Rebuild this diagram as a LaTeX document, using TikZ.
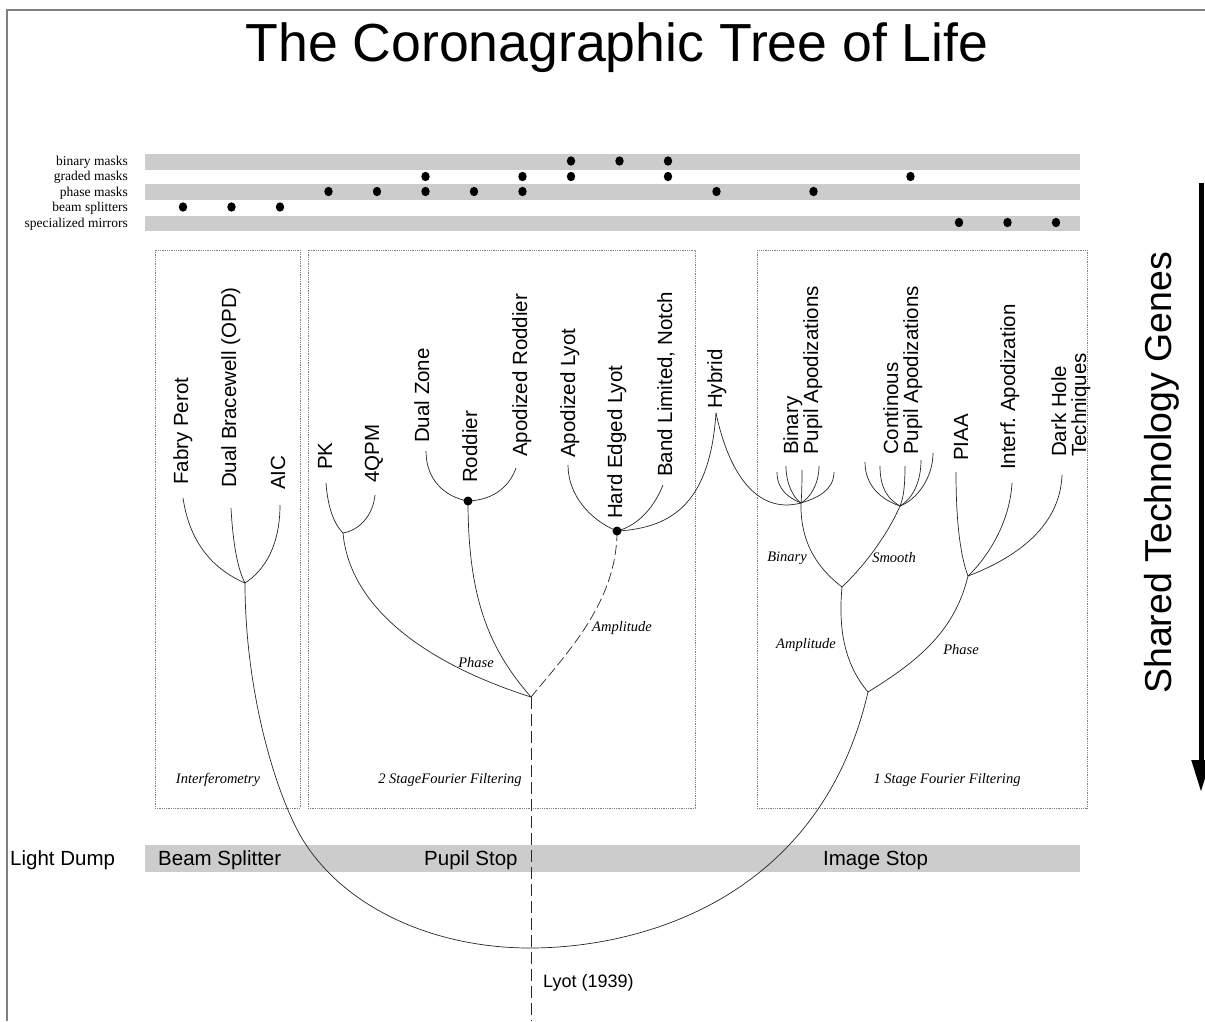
\documentclass[tikz,border=0pt]{standalone}
\usepackage{fontspec}
\setmainfont{Liberation Serif}
\setsansfont{Liberation Sans}
\usetikzlibrary{arrows.meta}

\tikzset{
  gene/.style={fill=gray!40},
  genelab/.style={anchor=base east, inner sep=0pt, font=\fontsize{13.5}{14}\selectfont},
  method/.style={rotate=90, inner sep=0pt, align=left, font=\sffamily\fontsize{20.5}{20}\selectfont},
  branch/.style={black!85, line width=0.7pt},
  twig/.style={inner sep=0pt, font=\itshape\fontsize{14.5}{15}\selectfont},
  family/.style={draw=gray, densely dotted, line width=0.8pt},
  stoplab/.style={anchor=base west, inner sep=0pt, font=\sffamily\fontsize{20.5}{21}\selectfont},
}

\begin{document}
\begin{tikzpicture}[x=1pt,y=-1pt]
\useasboundingbox (0,0) rectangle (1205,1021);
\draw[gray,line width=1.5pt] (7,1021) -- (7,10) -- (1205,10);
\node[anchor=base, inner sep=0pt, font=\sffamily\fontsize{53.6}{60}\selectfont] (title) at (617,61) {The Coronagraphic Tree of Life};

% technology genes
\fill[gene] (145,154) rectangle (1080,169.5);
\fill[gene] (145,184) rectangle (1080,199.5);
\fill[gene] (145,215.5) rectangle (1080,231);
\node[genelab] (binary) at (128,165) {binary masks};
\node[genelab] (graded) at (128,180.5) {graded masks};
\node[genelab] (phasem) at (128,196) {phase masks};
\node[genelab] (beams) at (128,211.5) {beam splitters};
\node[genelab] (mirrors) at (128,227) {specialized mirrors};
\foreach \y/\cols in {161/{8,9,10}, 176.5/{5,7,8,10,15}, 191.5/{3,4,5,6,7,11,13}, 207/{0,1,2}, 222.5/{16,17,18}}
  \foreach \k in \cols
    \fill ({183+48.5*\k},\y) ellipse (4.2pt and 4.7pt);

% families
\draw[family] (155,250) rectangle (300,808);
\draw[family] (308,250) rectangle (695,808);
\draw[family] (757,250) rectangle (1087,808);
\node[twig] (interf) at (218,780) {Interferometry};
\node[twig] (twostage) at (450,780) {2 StageFourier Filtering};
\node[twig] (onestage) at (947,780) {1 Stage Fourier Filtering};

% light dump
\fill[gene] (145,845) rectangle (1080,872);
\node[stoplab] (dump) at (10,865) {Light Dump};
\node[stoplab] (splitter) at (158,865) {Beam Splitter};
\node[stoplab] (pupil) at (424,865) {Pupil Stop};
\node[stoplab] (image) at (823,865) {Image Stop};

% methods
\node[method, anchor=base west] (fabry) at (188,485) {Fabry Perot};
\node[method, anchor=base west] (bracewell) at (236,488) {Dual Bracewell (OPD)};
\node[method, anchor=base west] (aiclab) at (285,490) {AIC};
\node[method, anchor=base west] (pklab) at (332,470) {PK};
\node[method, anchor=base west] (qpmlab) at (379,483) {4QPM};
\node[method, anchor=base west] (dzlab) at (429,443) {Dual Zone};
\node[method, anchor=base west] (rodlab) at (477,483) {Roddier};
\node[method, anchor=base west] (aprlab) at (527,457) {Apodized Roddier};
\node[method, anchor=base west] (apllab) at (575,458) {Apodized Lyot};
\node[method, anchor=base west] (hellab) at (622,519) {Hard Edged Lyot};
\node[method, anchor=base west] (blnlab) at (672,477) {Band Limited, Notch};
\node[method, anchor=base west] (hyblab) at (722,409) {Hybrid};
\node[method, anchor=north west] (binlab) at (783,455) {Binary\\Pupil Apodizations};
\node[method, anchor=north west] (contlab) at (883,455) {Continous\\Pupil Apodizations};
\node[method, anchor=base west] (piaalab) at (968,461) {PIAA};
\node[method, anchor=base west] (intflab) at (1015,470) {Interf.\ Apodization};
\node[method, anchor=north west] (darklab) at (1051,457) {Dark Hole\\Techniques};

% tree
\coordinate (fab) at (183,498);
\coordinate (brace) at (231,508);
\coordinate (aic) at (280,505);
\coordinate (lroot) at (245,583);
\coordinate (pk) at (326,483);
\coordinate (qpm) at (375,495);
\coordinate (pkroot) at (343,533);
\coordinate (dz) at (426,451);
\coordinate (apr) at (516,468);
\coordinate (rod) at (468,501);
\coordinate (apl) at (568,465);
\coordinate (bln) at (663,485);
\coordinate (lyot) at (617,531);
\coordinate (hyb) at (716,413);
\coordinate (mroot) at (531,697);
\coordinate (lyotend) at (531,1021);
\coordinate (bin) at (801,503);
\coordinate (cont) at (900,506);
\coordinate (ba) at (842,587);
\coordinate (piaa) at (956,472);
\coordinate (intf) at (1012,483);
\coordinate (dark) at (1062,475);
\coordinate (ph) at (968,576);
\coordinate (rroot) at (868,692);
\coordinate (origin) at (530,948);
\coordinate (turn) at (300,835);

\draw[branch] (fab) .. controls +(7,47) and +(-30,-13) .. (lroot);
\draw[branch] (brace) .. controls +(2,37) and +(-7,-13) .. (lroot);
\draw[branch] (aic) .. controls +(0,40) and +(20,-13) .. (lroot);

\draw[branch] (pk) .. controls +(2,27) and +(-8,-8) .. (pkroot);
\draw[branch] (qpm) .. controls +(-2,20) and +(17,-3) .. (pkroot);
\draw[branch] (dz) .. controls +(0,29) and +(-23,-4) .. (rod);
\draw[branch] (apr) .. controls +(-6,17) and +(27,-1) .. (rod);
\draw[branch] (apl) .. controls +(0,30) and +(-27,-11) .. (lyot);
\draw[branch] (bln) .. controls +(-8,20) and +(23,-6) .. (lyot);
\draw[branch] (lyot) .. controls +(58,-3) and +(-6,87) .. (hyb);
\draw[branch] (hyb) .. controls +(12,57) and +(-46,12) .. (bin);
\draw[branch] (pkroot) .. controls +(7,77) and +(-101,-32) .. (mroot);
\draw[branch] (rod) .. controls +(0,99) and +(-41,-47) .. (mroot);
\draw[branch, dash pattern=on 10pt off 4pt] (lyot) .. controls +(0,69) and +(39,-47) .. (mroot);
\draw[branch, dash pattern=on 12pt off 5pt] (mroot) -- (lyotend);
\fill (rod) circle (4.5pt);
\fill (lyot) circle (4.5pt);

\foreach \n/\tx/\ty in {1/777/472, 2/786/466, 3/802/470, 4/819/466, 5/834/472} {
  \coordinate (bf\n) at (\tx,\ty);
  \draw[branch] (bf\n) .. controls (\tx,\ty+18) and ({(\tx+801)/2},498) .. (bin);
}
\foreach \n/\tx/\ty in {1/865/462, 2/880/466, 3/905/466, 4/921/460, 5/933/453} {
  \coordinate (cf\n) at (\tx,\ty);
  \draw[branch] (cf\n) .. controls (\tx,\ty+25) and ({(\tx+900)/2},500) .. (cont);
}
\draw[branch] (bin) .. controls +(-1,42) and +(-22,-17) .. (ba);
\draw[branch] (cont) .. controls +(-15,34) and +(18,-17) .. (ba);
\draw[branch] (ba) .. controls +(-4,43) and +(-23,-27) .. (rroot);
\draw[branch] (piaa) .. controls +(0,48) and +(-8,-21) .. (ph);
\draw[branch] (intf) .. controls +(-2,37) and +(22,-21) .. (ph);
\draw[branch] (dark) .. controls +(-2,55) and +(42,-16) .. (ph);
\draw[branch] (ph) .. controls +(-13,54) and +(52,-32) .. (rroot);
\draw[branch] (rroot) .. controls +(-48,208) and +(110,0) .. (origin)
  .. controls +(-100,0) and +(40,70) .. (turn)
  .. controls +(-30,-55) and +(0,97) .. (lroot);

\node[twig] (phase1) at (476,663) {Phase};
\node[twig] (ampl1) at (622,628) {Amplitude};
\node[twig] (binbr) at (787,558) {Binary};
\node[twig] (smooth) at (894,558) {Smooth};
\node[twig] (ampl2) at (806,645) {Amplitude};
\node[twig] (phase2) at (961,650) {Phase};
\node[anchor=west, inner sep=0pt, font=\sffamily\fontsize{18}{20}\selectfont] (lyotlab) at (543,983) {Lyot (1939)};

% genes arrow
\node[rotate=90, anchor=base west, inner sep=0pt, font=\sffamily\fontsize{37.5}{40}\selectfont] (genes) at (1171,694) {Shared Technology Genes};
\draw[line width=5pt, -{Triangle[length=32pt,width=18pt]}] (1201,183) -- (1201,792);
\end{tikzpicture}
\end{document}
